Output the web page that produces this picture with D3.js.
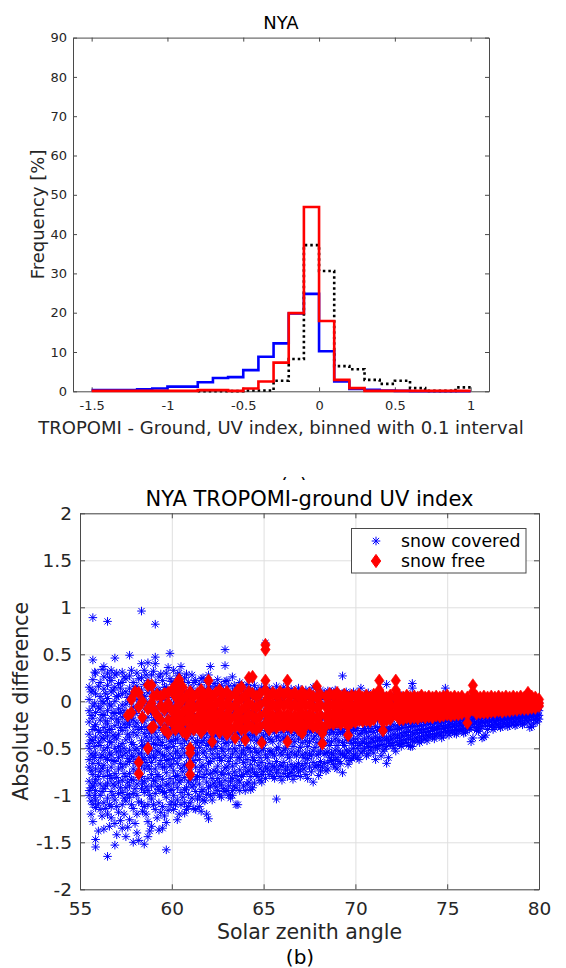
<!DOCTYPE html>
<html>
<head>
<meta charset="utf-8">
<script src="https://cdn.jsdelivr.net/npm/d3@7"></script>
<style>
  body { margin: 0; background: #fff; }
  svg { font-family: "DejaVu Sans", sans-serif; }
</style>
</head>
<body>
<div id="chart"></div>
<script>
// ---- (a) histogram data, bins of 0.1 ----
const binEdges = [-1.5, -1.4, -1.3, -1.2, -1.1, -1.0, -0.9, -0.8, -0.7, -0.6, -0.5, -0.4, -0.3, -0.2, -0.1,
  0, 0.1, 0.2, 0.3, 0.4, 0.5, 0.6, 0.7, 0.8, 0.9, 1.0]
const snowCoveredFreq = [0.3, 0.3, 0.3, 0.5, 0.7, 1.2, 1.2, 2.3, 3.4, 3.6, 5.4, 8.8, 12.2, 19.8, 24.8,
  10.2, 2.5, 0.6, 0.4, 0.2, 0.1, 0, 0, 0, 0]
const snowFreeFreq = [0.1, 0.1, 0.1, 0.1, 0.1, 0.1, 0.1, 0.3, 0.3, 0.1, 0.7, 2.5, 7.3, 19.9, 46.9,
  17.9, 2.9, 0.8, 0.1, 0.1, 0.1, 0.1, 0.1, 0.1, 0.1]
const allFreq = [null, null, null, null, null, null, null, 0.05, 0.05, 0.05, 0.2, 0.2, 2.7, 8.2, 37.2,
  30.6, 6.4, 5.6, 2.9, 1.9, 2.7, 0.8, 0.1, 0.1, 1.0]
const histXTicks = [-1.5, -1, -0.5, 0, 0.5, 1]
const histYTicks = [0, 10, 20, 30, 40, 50, 60, 70, 80, 90]

// ---- (b) scatter data: [solar zenith angle, [absolute differences]] ----
const snowCovered = [
  [55.5, [0.02, -0.1, -0.22, -0.35, -0.5, -0.62, -0.7, -0.85, -1.0, 0.15, -0.45, -0.95]],
  [55.7, [0.23, 0.12, -0.05, -0.18, -0.3, -0.42, -0.58, -0.66, -0.78, -0.9, -1.1, -1.28, 0.44, 0.89]],
  [55.85, [0.3, 0.08, -0.12, -0.25, -0.38, -0.55, -0.72, -0.83, -0.95, -1.05, -1.13, -1.47, -1.55]],
  [56.1, [0.2, 0.05, -0.08, -0.2, -0.33, -0.47, -0.6, -0.75, -0.88, -1.0, -1.15]],
  [56.3, [0.26, 0.13, -0.02, -0.15, -0.28, -0.4, -0.52, -0.68, -0.8, -0.93, -1.08, -1.36, 0.37]],
  [56.5, [0.3, 0.17, 0.03, -0.1, -0.24, -0.37, -0.49, -0.62, -0.74, -0.87, -1.03, -1.2, -1.65, 0.85]],
  [56.7, [0.22, 0.1, -0.05, -0.18, -0.3, -0.44, -0.57, -0.7, -0.82, -0.96, -1.12, -1.24, 0.33]],
  [56.9, [0.28, 0.15, 0.0, -0.13, -0.26, -0.38, -0.5, -0.64, -0.77, -0.9, -1.05, -1.3, -1.53, 0.46]],
  [57.1, [0.19, 0.06, -0.08, -0.22, -0.35, -0.48, -0.6, -0.72, -0.86, -0.98, -1.18]],
  [57.3, [0.31, 0.2, 0.08, -0.04, -0.17, -0.31, -0.45, -0.58, -0.7, -0.84, -0.97, -1.1, -1.35]],
  [57.5, [0.24, 0.1, -0.03, -0.16, -0.28, -0.41, -0.55, -0.67, -0.8, -0.92, -1.06, -1.44]],
  [57.7, [0.27, 0.14, 0.0, -0.12, -0.25, -0.38, -0.52, -0.64, -0.77, -0.9, -1.02, -1.26, 0.49]],
  [57.9, [0.2, 0.07, -0.06, -0.2, -0.33, -0.46, -0.59, -0.72, -0.84, -0.98, -1.14, -1.5]],
  [58.1, [0.3, 0.16, 0.02, -0.1, -0.23, -0.36, -0.5, -0.62, -0.75, -0.88, -1.0, -1.2, -1.4]],
  [58.35, [0.25, 0.12, -0.02, -0.15, -0.28, -0.42, -0.55, -0.68, -0.8, -0.93, -1.08, 0.96, 0.4]],
  [58.5, [0.33, 0.18, 0.05, -0.08, -0.21, -0.34, -0.47, -0.6, -0.72, -0.85, -0.97, -1.12, -1.52]],
  [58.7, [0.22, 0.09, -0.04, -0.17, -0.3, -0.43, -0.56, -0.69, -0.82, -0.95, -1.1, -1.28, -1.44, 0.41]],
  [58.9, [0.28, 0.14, 0.0, -0.13, -0.26, -0.39, -0.52, -0.65, -0.78, -0.9, -1.04, -1.33]],
  [59.1, [0.2, 0.07, -0.07, -0.2, -0.33, -0.46, -0.6, -0.72, -0.85, -0.98, -1.15, 0.82, 0.47, 0.4]],
  [59.3, [0.26, 0.12, -0.02, -0.15, -0.28, -0.41, -0.54, -0.67, -0.8, -0.94, -1.08, -1.37]],
  [59.5, [0.22, 0.08, -0.05, -0.18, -0.31, -0.44, -0.57, -0.7, -0.83, -0.96, -1.12, -1.35]],
  [59.7, [0.3, 0.15, 0.01, -0.12, -0.25, -0.38, -0.5, -0.63, -0.76, -0.89, -1.02, -1.29, -1.58]],
  [59.9, [0.51, 0.24, 0.1, -0.04, -0.17, -0.3, -0.43, -0.56, -0.69, -0.82, -0.95, -1.1]],
  [60.1, [0.33, 0.18, 0.04, -0.09, -0.22, -0.35, -0.48, -0.61, -0.74, -0.87, -1.0, -1.15]],
  [60.3, [0.27, 0.13, -0.01, -0.14, -0.27, -0.4, -0.53, -0.66, -0.79, -0.92, -1.05, -1.26]],
  [60.5, [0.37, 0.21, 0.07, -0.06, -0.19, -0.32, -0.45, -0.58, -0.71, -0.84, -0.97, -1.1]],
  [60.7, [0.25, 0.1, -0.03, -0.16, -0.29, -0.42, -0.55, -0.68, -0.81, -0.94, -1.08, -1.19]],
  [60.9, [0.2, 0.06, -0.08, -0.21, -0.34, -0.47, -0.6, -0.73, -0.86, -0.99, -1.12]],
  [61.1, [0.28, 0.14, 0.0, -0.13, -0.26, -0.39, -0.52, -0.65, -0.78, -0.91, -1.03]],
  [61.3, [0.22, 0.08, -0.05, -0.18, -0.31, -0.44, -0.57, -0.7, -0.83, -0.96, -1.15]],
  [61.5, [0.18, 0.04, -0.1, -0.23, -0.36, -0.49, -0.62, -0.75, -0.88, -1.01, -1.12]],
  [61.7, [0.25, 0.11, -0.03, -0.16, -0.29, -0.42, -0.55, -0.68, -0.81, -0.94, -1.05]],
  [61.9, [0.2, 0.06, -0.08, -0.21, -0.34, -0.47, -0.6, -0.73, -0.86, -0.99, -1.2]],
  [62.1, [0.37, 0.15, 0.01, -0.12, -0.25, -0.38, -0.51, -0.64, -0.77, -0.9, -1.0]],
  [62.3, [0.19, 0.05, -0.09, -0.22, -0.35, -0.48, -0.61, -0.74, -0.87, -0.98]],
  [62.5, [0.23, 0.09, -0.04, -0.17, -0.3, -0.43, -0.56, -0.69, -0.82, -0.95]],
  [62.7, [0.17, 0.03, -0.11, -0.24, -0.37, -0.5, -0.63, -0.76, -0.89, -1.02]],
  [62.9, [0.55, 0.38, 0.21, 0.07, -0.06, -0.19, -0.32, -0.45, -0.58, -0.71, -0.84, -0.96]],
  [63.1, [0.16, 0.02, -0.12, -0.25, -0.38, -0.51, -0.64, -0.77, -0.9, -1.0]],
  [63.3, [0.26, 0.1, -0.04, -0.17, -0.3, -0.43, -0.56, -0.69, -0.82, -0.95, -1.0]],
  [63.5, [0.14, 0.0, -0.14, -0.27, -0.4, -0.53, -0.66, -0.79, -0.92, -1.1]],
  [63.7, [0.2, 0.06, -0.08, -0.21, -0.34, -0.47, -0.6, -0.73, -0.86, -0.95]],
  [63.9, [0.15, 0.01, -0.13, -0.26, -0.39, -0.52, -0.65, -0.78, -0.9]],
  [64.1, [0.18, 0.04, -0.1, -0.23, -0.36, -0.49, -0.62, -0.75, -0.88]],
  [64.3, [0.13, -0.01, -0.15, -0.28, -0.41, -0.54, -0.67, -0.8, -0.94]],
  [64.5, [0.17, 0.03, -0.11, -0.24, -0.37, -0.5, -0.63, -0.76, -0.87]],
  [64.7, [0.12, -0.02, -0.16, -0.29, -0.42, -0.55, -0.68, -0.8]],
  [64.9, [0.15, 0.01, -0.13, -0.26, -0.39, -0.52, -0.65, -0.78, -0.86]],
  [65.1, [0.62, 0.1, -0.04, -0.18, -0.31, -0.44, -0.57, -0.7, -0.82]],
  [65.3, [0.14, 0.0, -0.14, -0.27, -0.4, -0.53, -0.66, -0.78]],
  [65.5, [0.11, -0.03, -0.17, -0.3, -0.43, -0.56, -0.69, -0.8]],
  [65.7, [0.16, 0.02, -0.12, -0.25, -0.38, -0.51, -0.64, -0.76, -1.04]],
  [65.9, [0.12, -0.02, -0.16, -0.29, -0.42, -0.55, -0.68, -0.8]],
  [66.1, [0.15, 0.01, -0.13, -0.26, -0.39, -0.52, -0.65, -0.77]],
  [66.3, [0.1, -0.04, -0.18, -0.31, -0.44, -0.57, -0.7, -0.8]],
  [66.5, [0.13, -0.01, -0.15, -0.28, -0.41, -0.54, -0.67, -0.76]],
  [66.7, [0.11, -0.03, -0.17, -0.3, -0.43, -0.56, -0.69, -0.79]],
  [66.9, [0.14, 0.0, -0.14, -0.27, -0.4, -0.53, -0.66, -0.75]],
  [67.1, [0.1, -0.04, -0.18, -0.31, -0.44, -0.57, -0.68]],
  [67.3, [0.12, -0.02, -0.16, -0.29, -0.42, -0.55, -0.66, -0.78]],
  [67.5, [0.11, -0.03, -0.17, -0.3, -0.43, -0.56, -0.7]],
  [67.7, [0.15, 0.0, -0.14, -0.27, -0.4, -0.53, -0.65, -0.86]],
  [67.9, [0.1, -0.04, -0.18, -0.31, -0.44, -0.57, -0.68]],
  [68.1, [0.12, -0.02, -0.15, -0.28, -0.41, -0.53, -0.64, -0.74]],
  [68.3, [0.09, -0.05, -0.18, -0.31, -0.44, -0.56, -0.66]],
  [68.5, [0.11, -0.03, -0.16, -0.29, -0.42, -0.54, -0.65, -0.72]],
  [68.7, [0.1, -0.04, -0.17, -0.3, -0.43, -0.55, -0.63]],
  [68.9, [0.12, -0.02, -0.15, -0.28, -0.4, -0.52, -0.62, -0.7]],
  [69.1, [0.09, -0.05, -0.18, -0.3, -0.42, -0.53, -0.64]],
  [69.3, [0.27, 0.08, -0.06, -0.19, -0.32, -0.44, -0.56, -0.76]],
  [69.5, [0.1, -0.04, -0.17, -0.29, -0.41, -0.52, -0.6]],
  [69.7, [0.08, -0.06, -0.18, -0.3, -0.42, -0.53, -0.63]],
  [69.9, [0.1, -0.04, -0.16, -0.28, -0.4, -0.5, -0.58]],
  [70.1, [0.08, -0.05, -0.17, -0.29, -0.4, -0.5, -0.6]],
  [70.3, [0.14, 0.02, -0.1, -0.22, -0.34, -0.45, -0.55]],
  [70.5, [0.07, -0.05, -0.17, -0.29, -0.4, -0.5]],
  [70.7, [0.09, -0.03, -0.15, -0.27, -0.38, -0.48, -0.56]],
  [70.9, [0.06, -0.06, -0.18, -0.29, -0.4, -0.49]],
  [71.1, [0.08, -0.04, -0.16, -0.27, -0.38, -0.48, -0.62]],
  [71.3, [0.06, -0.06, -0.17, -0.28, -0.39, -0.47]],
  [71.5, [0.07, -0.05, -0.16, -0.27, -0.37, -0.46, -0.53]],
  [71.7, [0.18, 0.05, -0.07, -0.18, -0.29, -0.39, -0.48, -0.66]],
  [71.9, [0.06, -0.05, -0.16, -0.27, -0.37, -0.45]],
  [72.1, [0.07, -0.04, -0.15, -0.25, -0.35, -0.44, -0.5]],
  [72.3, [0.05, -0.06, -0.16, -0.26, -0.36, -0.44]],
  [72.5, [0.06, -0.05, -0.15, -0.25, -0.34, -0.42, -0.48]],
  [72.7, [0.05, -0.05, -0.15, -0.24, -0.33, -0.41]],
  [72.9, [0.06, -0.04, -0.14, -0.23, -0.32, -0.4, -0.47]],
  [73.1, [0.19, 0.14, 0.04, -0.06, -0.15, -0.24, -0.33, -0.41, -0.48]],
  [73.3, [0.05, -0.05, -0.14, -0.23, -0.31, -0.39]],
  [73.5, [0.06, -0.04, -0.13, -0.22, -0.3, -0.38, -0.44]],
  [73.7, [0.04, -0.05, -0.14, -0.22, -0.3, -0.37]],
  [73.9, [0.05, -0.04, -0.13, -0.21, -0.29, -0.36, -0.42]],
  [74.1, [0.04, -0.05, -0.13, -0.21, -0.28, -0.35]],
  [74.3, [0.05, -0.04, -0.12, -0.2, -0.28, -0.35, -0.4]],
  [74.5, [0.04, -0.05, -0.13, -0.2, -0.27, -0.34]],
  [74.7, [0.05, -0.03, -0.11, -0.19, -0.26, -0.33, -0.39]],
  [74.9, [0.14, 0.04, -0.04, -0.12, -0.19, -0.26, -0.32]],
  [75.1, [0.04, -0.04, -0.11, -0.18, -0.25, -0.31, -0.36]],
  [75.3, [0.03, -0.05, -0.12, -0.19, -0.25, -0.31]],
  [75.5, [0.04, -0.03, -0.1, -0.17, -0.24, -0.3, -0.35]],
  [75.7, [0.03, -0.04, -0.11, -0.18, -0.24, -0.3]],
  [75.9, [0.04, -0.03, -0.1, -0.17, -0.23, -0.29, -0.34]],
  [76.1, [0.03, -0.04, -0.11, -0.17, -0.23, -0.29]],
  [76.3, [0.04, -0.03, -0.1, -0.16, -0.22, -0.28, -0.43]],
  [76.5, [0.03, -0.04, -0.1, -0.16, -0.22, -0.28]],
  [76.7, [0.04, -0.02, -0.09, -0.15, -0.21, -0.27, -0.32]],
  [76.9, [0.03, -0.03, -0.1, -0.16, -0.22, -0.27, -0.39]],
  [77.1, [0.04, -0.02, -0.09, -0.15, -0.21, -0.26, -0.36]],
  [77.3, [0.03, -0.03, -0.09, -0.15, -0.2, -0.26]],
  [77.5, [0.04, -0.02, -0.08, -0.14, -0.2, -0.25, -0.3]],
  [77.7, [0.03, -0.03, -0.09, -0.14, -0.2, -0.25]],
  [77.9, [0.04, -0.02, -0.08, -0.13, -0.19, -0.24, -0.28]],
  [78.1, [0.03, -0.03, -0.08, -0.14, -0.19, -0.24]],
  [78.3, [0.04, -0.02, -0.07, -0.13, -0.18, -0.23, -0.27]],
  [78.5, [0.03, -0.02, -0.08, -0.13, -0.18, -0.22]],
  [78.7, [0.04, -0.01, -0.07, -0.12, -0.17, -0.22, -0.26]],
  [78.9, [0.03, -0.02, -0.07, -0.12, -0.17, -0.21]],
  [79.1, [0.04, -0.01, -0.06, -0.11, -0.16, -0.21, -0.25]],
  [79.3, [0.03, -0.02, -0.07, -0.11, -0.16, -0.2]],
  [79.5, [0.03, -0.01, -0.06, -0.1, -0.15, -0.2, -0.28]],
  [79.7, [0.02, -0.02, -0.06, -0.1, -0.15, -0.19, -0.24]],
  [79.9, [0.02, -0.02, -0.06, -0.1, -0.14, -0.18, -0.22]]
]

// more snow-covered points read between the columns above
const snowCoveredFill = [
  [55.6, [0.1, -0.15, -0.41, -0.56, -0.74, -0.92, -1.06, -1.2]],
  [55.8, [0.31, -0.02, -0.27, -0.48, -0.6, -0.87, -1.0]],
  [56.0, [0.16, -0.06, -0.31, -0.44, -0.66, -0.8, -1.09, -1.38]],
  [56.2, [0.34, 0.0, -0.14, -0.39, -0.57, -0.71, -0.96, -1.22]],
  [56.4, [0.08, -0.21, -0.33, -0.6, -0.9, -1.14]],
  [56.6, [0.25, -0.03, -0.3, -0.43, -0.55, -0.79, -1.1, -1.33]],
  [56.8, [0.12, -0.12, -0.36, -0.63, -0.88, -1.0]],
  [57.0, [0.3, 0.05, -0.19, -0.4, -0.54, -0.81, -1.12, -1.42]],
  [57.2, [0.14, -0.12, -0.28, -0.53, -0.66, -0.92, -1.27]],
  [57.4, [0.26, -0.1, -0.24, -0.5, -0.77, -1.03, -1.2]],
  [57.6, [0.04, -0.22, -0.35, -0.61, -0.86, -0.99, -1.34]],
  [57.8, [0.33, 0.08, -0.18, -0.44, -0.58, -0.83, -1.1]],
  [58.0, [0.13, -0.13, -0.27, -0.52, -0.66, -0.93, -1.3]],
  [58.2, [0.24, -0.03, -0.3, -0.56, -0.81, -1.07, -1.48]],
  [58.4, [0.06, -0.2, -0.48, -0.62, -0.87, -1.17]],
  [58.6, [0.28, 0.0, -0.27, -0.38, -0.65, -0.91, -1.2]],
  [58.8, [0.15, -0.07, -0.34, -0.6, -0.72, -1.0, -1.38]],
  [59.0, [0.32, 0.08, -0.2, -0.45, -0.58, -0.84, -1.1]],
  [59.2, [0.12, -0.09, -0.38, -0.53, -0.78, -0.91, -1.24]],
  [59.4, [0.29, 0.02, -0.24, -0.47, -0.63, -0.9, -1.18]],
  [59.6, [0.15, -0.1, -0.36, -0.58, -0.7, -0.97, -1.22]],
  [59.8, [0.36, 0.06, -0.22, -0.49, -0.62, -0.88, -1.16]],
  [60.0, [0.21, -0.02, -0.28, -0.42, -0.67, -0.94, -1.07]],
  [60.2, [0.1, -0.15, -0.41, -0.55, -0.8, -1.1]],
  [60.4, [0.3, 0.04, -0.2, -0.34, -0.6, -0.86, -1.2]],
  [60.6, [0.14, -0.1, -0.37, -0.5, -0.75, -1.02]],
  [60.8, [0.29, 0.0, -0.27, -0.4, -0.67, -0.92, -1.15]],
  [61.0, [0.12, -0.14, -0.33, -0.58, -0.84, -1.08]],
  [61.2, [0.2, -0.03, -0.24, -0.5, -0.63, -0.89, -1.14]],
  [61.4, [0.09, -0.17, -0.42, -0.55, -0.8, -1.04]],
  [61.6, [0.24, -0.05, -0.3, -0.44, -0.7, -0.96, -1.17]],
  [61.8, [0.13, -0.12, -0.39, -0.53, -0.78, -1.06]],
  [62.0, [0.28, 0.02, -0.26, -0.45, -0.66, -0.92, -1.25]],
  [62.2, [0.1, -0.16, -0.3, -0.56, -0.82, -1.05]],
  [62.4, [0.16, -0.1, -0.37, -0.5, -0.75, -0.91]],
  [62.6, [0.07, -0.2, -0.33, -0.6, -0.86, -1.0]],
  [62.8, [0.12, -0.13, -0.4, -0.53, -0.78, -0.93]],
  [63.0, [0.22, 0.0, -0.27, -0.44, -0.7, -0.95]],
  [63.2, [0.08, -0.18, -0.33, -0.6, -0.85, -1.03]],
  [63.4, [0.17, -0.1, -0.36, -0.5, -0.75, -0.9]],
  [63.6, [0.06, -0.2, -0.34, -0.6, -0.84, -1.1]],
  [63.8, [0.12, -0.15, -0.41, -0.55, -0.8]],
  [64.0, [0.08, -0.17, -0.3, -0.57, -0.7, -0.95]],
  [64.2, [0.14, -0.1, -0.36, -0.5, -0.74, -0.86]],
  [64.4, [0.05, -0.21, -0.35, -0.6, -0.72, -0.92]],
  [64.6, [0.1, -0.15, -0.42, -0.54, -0.78]],
  [64.8, [0.07, -0.19, -0.33, -0.6, -0.72, -0.84]],
  [65.0, [0.12, -0.12, -0.37, -0.5, -0.75]],
  [65.2, [0.04, -0.22, -0.35, -0.6, -0.72]],
  [65.4, [0.09, -0.16, -0.41, -0.53, -0.74]],
  [65.6, [0.06, -0.2, -0.33, -0.58, -0.7, -0.82]],
  [65.8, [0.1, -0.14, -0.37, -0.49, -0.73]],
  [66.0, [0.05, -0.2, -0.33, -0.57, -0.69, -0.84]],
  [66.2, [0.08, -0.16, -0.38, -0.5, -0.73]],
  [66.4, [0.04, -0.21, -0.33, -0.6, -0.77]],
  [66.6, [0.07, -0.15, -0.36, -0.48, -0.72, -0.83]],
  [66.8, [0.03, -0.2, -0.33, -0.58, -0.7]],
  [67.0, [0.06, -0.16, -0.37, -0.49, -0.73, -0.8]],
  [67.2, [0.03, -0.21, -0.35, -0.6, -0.72]],
  [67.4, [0.07, -0.14, -0.36, -0.48, -0.61, -0.82]],
  [67.6, [0.02, -0.2, -0.33, -0.58, -0.75]],
  [67.8, [0.05, -0.16, -0.37, -0.49, -0.7]],
  [68.0, [0.02, -0.2, -0.34, -0.56, -0.68, -0.79]],
  [68.2, [0.06, -0.15, -0.36, -0.48, -0.7]],
  [68.4, [0.02, -0.2, -0.33, -0.55, -0.74]],
  [68.6, [0.05, -0.15, -0.35, -0.47, -0.6]],
  [68.8, [0.02, -0.2, -0.33, -0.57, -0.67]],
  [69.0, [0.05, -0.15, -0.35, -0.47, -0.6, -0.72]],
  [69.2, [0.02, -0.19, -0.33, -0.56, -0.66]],
  [69.4, [0.05, -0.14, -0.35, -0.47, -0.58]],
  [69.6, [0.01, -0.19, -0.32, -0.55, -0.67]],
  [69.8, [0.04, -0.14, -0.34, -0.45, -0.61]],
  [70.0, [0.02, -0.18, -0.31, -0.44, -0.56]],
  [70.2, [0.04, -0.13, -0.35, -0.47, -0.62]],
  [70.4, [0.01, -0.19, -0.31, -0.43, -0.53]],
  [70.6, [0.03, -0.12, -0.33, -0.45, -0.58]],
  [70.8, [0.01, -0.2, -0.32, -0.44, -0.52]],
  [71.0, [0.03, -0.12, -0.33, -0.43, -0.55]],
  [71.2, [0.0, -0.2, -0.31, -0.42, -0.5]],
  [71.4, [0.03, -0.11, -0.32, -0.42, -0.58]],
  [71.6, [0.0, -0.19, -0.3, -0.41, -0.51]],
  [71.8, [0.02, -0.1, -0.31, -0.42, -0.6]],
  [72.0, [0.0, -0.19, -0.3, -0.4, -0.47]],
  [72.2, [0.02, -0.1, -0.3, -0.39, -0.53]],
  [72.4, [-0.01, -0.19, -0.29, -0.39, -0.46]],
  [72.6, [0.02, -0.1, -0.28, -0.37, -0.45]],
  [72.8, [-0.01, -0.18, -0.28, -0.36, -0.44]],
  [73.0, [0.01, -0.1, -0.27, -0.37, -0.48]],
  [73.2, [-0.01, -0.18, -0.27, -0.35, -0.43]],
  [73.4, [0.01, -0.09, -0.26, -0.34, -0.42]],
  [73.6, [-0.01, -0.17, -0.26, -0.33, -0.41]],
  [73.8, [0.01, -0.09, -0.25, -0.33, -0.4]],
  [74.0, [-0.01, -0.17, -0.24, -0.32, -0.38]],
  [74.2, [0.0, -0.08, -0.24, -0.31, -0.38]],
  [74.4, [-0.01, -0.16, -0.23, -0.3, -0.37]],
  [74.6, [0.0, -0.08, -0.23, -0.29, -0.36]],
  [74.8, [-0.01, -0.15, -0.22, -0.29, -0.37]],
  [75.0, [0.0, -0.08, -0.21, -0.28, -0.34]],
  [75.2, [-0.01, -0.15, -0.21, -0.27, -0.33]],
  [75.4, [0.0, -0.08, -0.21, -0.27, -0.34]],
  [75.6, [-0.01, -0.14, -0.2, -0.26, -0.32]],
  [75.8, [0.0, -0.07, -0.2, -0.26, -0.31]],
  [76.0, [-0.01, -0.13, -0.19, -0.25, -0.33]],
  [76.2, [0.0, -0.07, -0.19, -0.25, -0.3]],
  [76.4, [-0.01, -0.13, -0.19, -0.24, -0.39]],
  [76.6, [0.0, -0.07, -0.18, -0.24, -0.31]],
  [76.8, [-0.01, -0.12, -0.18, -0.23, -0.29]],
  [77.0, [0.0, -0.06, -0.17, -0.23, -0.38]],
  [77.2, [-0.01, -0.12, -0.17, -0.22, -0.3]],
  [77.4, [0.0, -0.06, -0.16, -0.22, -0.27]],
  [77.6, [-0.01, -0.11, -0.16, -0.21, -0.28]],
  [77.8, [0.0, -0.05, -0.16, -0.21, -0.26]],
  [78.0, [-0.01, -0.11, -0.15, -0.2, -0.27]],
  [78.2, [0.0, -0.05, -0.15, -0.2, -0.25]],
  [78.4, [-0.01, -0.1, -0.15, -0.19, -0.26]],
  [78.6, [0.0, -0.05, -0.14, -0.19, -0.24]],
  [78.8, [-0.01, -0.1, -0.14, -0.18, -0.25]],
  [79.0, [0.0, -0.04, -0.13, -0.18, -0.23]],
  [79.2, [-0.01, -0.09, -0.13, -0.17, -0.24]],
  [79.4, [0.0, -0.04, -0.12, -0.17, -0.22]],
  [79.6, [-0.01, -0.08, -0.12, -0.16, -0.27]],
  [79.8, [0.0, -0.04, -0.11, -0.16, -0.2]],
  [80.0, [-0.01, -0.06, -0.1, -0.15, -0.19]]
]

const snowFree = [
  [57.6, [-0.15]], [57.8, [0.02, -0.12]], [58.0, [0.1]],
  [58.2, [0.09, -0.06, -0.65, -0.77]], [58.4, [-0.17, 0.0]],
  [58.7, [0.17, -0.5, -0.08]], [58.9, [0.17, -0.28, -0.02]], [59.0, [-0.09, -0.27, 0.05]],
  [59.2, [0.07, -0.15]], [59.4, [0.05, -0.2, -0.05]], [59.6, [-0.09, 0.08, -0.3]],
  [59.8, [0.09, -0.34, -0.2, -0.02]], [60.0, [0.12, -0.1, -0.22]],
  [60.2, [0.17, 0.05, -0.08, -0.18, -0.3]], [60.4, [0.23, 0.1, -0.03, -0.15, -0.25]],
  [60.6, [0.15, 0.02, -0.12, -0.22, -0.32]], [60.8, [0.06, -0.08, -0.2, -0.35]],
  [61.0, [0.1, -0.02, -0.15, -0.28, -0.5, -0.55, -0.68, -0.78]],
  [61.2, [0.05, -0.07, -0.2, -0.3]], [61.4, [0.08, -0.05, -0.17, -0.27]],
  [61.6, [0.12, 0.0, -0.12, -0.24, -0.33]], [61.8, [0.06, -0.06, -0.18, -0.28]],
  [62.0, [0.22, 0.1, -0.02, -0.14, -0.25]], [62.2, [0.05, -0.08, -0.2, -0.32, -0.43]],
  [62.4, [0.09, -0.03, -0.15, -0.26]], [62.6, [0.12, 0.0, -0.12, -0.23, -0.33]],
  [62.8, [0.07, -0.05, -0.17, -0.28]], [63.0, [0.1, -0.02, -0.14, -0.25, -0.35]],
  [63.2, [0.05, -0.07, -0.19, -0.3]], [63.45, [0.08, -0.04, -0.16, -0.27, -0.39]],
  [63.6, [0.12, 0.0, -0.12, -0.23]], [63.8, [0.15, 0.03, -0.09, -0.2, -0.3]],
  [64.0, [0.06, -0.06, -0.18, -0.29, -0.41]], [64.2, [0.25, 0.1, -0.02, -0.14, -0.25]],
  [64.4, [0.26, 0.08, -0.05, -0.16, -0.28]], [64.6, [0.05, -0.07, -0.19, -0.3]],
  [64.8, [0.08, -0.04, -0.16, -0.27]], [64.9, [-0.44]],
  [65.1, [0.6, 0.55, 0.22, 0.12, 0.0, -0.12, -0.24]],
  [65.3, [0.05, -0.07, -0.19, -0.3]], [65.5, [0.09, -0.03, -0.15, -0.26]],
  [65.7, [0.06, -0.06, -0.18, -0.28]], [65.9, [0.1, -0.02, -0.14, -0.25]],
  [66.1, [0.07, -0.05, -0.17, -0.27]], [66.3, [0.22, 0.1, -0.02, -0.14, -0.25, -0.43]],
  [66.5, [0.06, -0.06, -0.18, -0.28]], [66.7, [0.09, -0.03, -0.15, -0.25]],
  [66.9, [0.05, -0.07, -0.19, -0.3]], [67.1, [0.1, -0.02, -0.13, -0.24, -0.34]],
  [67.3, [0.06, -0.05, -0.16, -0.26]], [67.5, [0.08, -0.03, -0.14, -0.24]],
  [67.7, [0.05, -0.06, -0.17, -0.27]], [67.9, [0.16, 0.04, -0.07, -0.18, -0.27]],
  [68.1, [0.07, -0.04, -0.15, -0.25]], [68.2, [-0.34, -0.45]],
  [68.4, [0.05, -0.06, -0.16, -0.26]], [68.6, [0.08, -0.03, -0.13, -0.23]],
  [68.8, [0.06, -0.05, -0.15, -0.24]], [69.0, [0.09, -0.02, -0.12, -0.22]],
  [69.2, [0.05, -0.05, -0.15, -0.24]], [69.4, [0.07, -0.03, -0.13, -0.22]],
  [69.6, [0.04, -0.06, -0.16, -0.26, -0.36]], [69.8, [0.06, -0.04, -0.13, -0.22]],
  [70.0, [0.05, -0.05, -0.14, -0.22]], [70.2, [0.07, -0.02, -0.11, -0.2]],
  [70.4, [0.04, -0.05, -0.13, -0.21]], [70.6, [0.06, -0.03, -0.12, -0.2]],
  [70.8, [0.04, -0.05, -0.13, -0.21]], [71.0, [0.07, -0.02, -0.11, -0.19]],
  [71.3, [0.22, 0.12, 0.03, -0.06, -0.15]], [71.5, [0.05, -0.04, -0.13, -0.22, -0.31]],
  [71.7, [0.04, -0.05, -0.13, -0.2]], [71.9, [0.06, -0.03, -0.11, -0.19]],
  [72.2, [0.22, 0.12, 0.03, -0.06, -0.14]], [72.4, [0.05, -0.04, -0.12, -0.19]],
  [72.6, [0.04, -0.04, -0.12, -0.19]], [72.8, [0.06, -0.02, -0.1, -0.17]],
  [73.0, [0.04, -0.04, -0.11, -0.18]], [73.2, [0.05, -0.03, -0.1, -0.17]],
  [73.4, [0.04, -0.04, -0.11, -0.18]], [73.6, [0.06, -0.02, -0.09, -0.16]],
  [73.8, [0.04, -0.03, -0.1, -0.17]], [74.0, [0.05, -0.02, -0.09, -0.16]],
  [74.2, [0.04, -0.03, -0.1, -0.17]], [74.4, [0.05, -0.02, -0.09, -0.15]],
  [74.6, [0.04, -0.03, -0.1, -0.16]], [74.8, [0.05, -0.02, -0.08, -0.15]],
  [75.0, [0.06, -0.01, -0.08, -0.14]], [75.2, [0.04, -0.03, -0.09, -0.15]],
  [75.4, [0.05, -0.02, -0.08, -0.14]], [75.6, [0.04, -0.02, -0.08, -0.14]],
  [75.8, [0.05, -0.01, -0.07, -0.13]], [76.1, [0.04, -0.02, -0.08, -0.14, -0.23]],
  [76.4, [0.17, 0.1, 0.03, -0.03, -0.09]], [76.6, [0.05, -0.01, -0.07, -0.13]],
  [76.8, [0.04, -0.02, -0.07, -0.12]], [77.0, [0.05, -0.01, -0.06, -0.12]],
  [77.2, [0.04, -0.02, -0.07, -0.12]], [77.4, [0.05, -0.01, -0.06, -0.11]],
  [77.6, [0.04, -0.01, -0.06, -0.11]], [77.8, [0.05, 0.0, -0.05, -0.1]],
  [78.0, [0.04, -0.01, -0.06, -0.11]], [78.2, [0.05, 0.0, -0.05, -0.1]],
  [78.4, [0.04, -0.01, -0.05, -0.1]], [78.6, [0.05, 0.0, -0.05, -0.09]],
  [78.8, [0.04, -0.01, -0.05, -0.09]], [79.0, [0.05, 0.0, -0.04, -0.08]],
  [79.2, [0.04, 0.0, -0.04, -0.08]], [79.4, [0.09, 0.04, 0.0, -0.04, -0.08]],
  [79.6, [0.05, 0.01, -0.03, -0.07]], [79.8, [0.04, 0.0, -0.03, -0.07]],
  [80.0, [0.02, -0.02, -0.05]]
]
const szaTicks = [55, 60, 65, 70, 75, 80]
const diffTicks = [-2, -1.5, -1, -0.5, 0, 0.5, 1, 1.5, 2]

function draw() {
	const width = 566
	const height = 968
	const axisColor = '#4a4a4a'
	const textColor = '#262626'

	const svg = d3.select('#chart')
		.append('svg')
		.attr('width', width)
		.attr('height', height)

	svg.append('rect').attr('width', width).attr('height', height).attr('fill', '#fff')

	// ================= (a) histogram =================
	const hist = { left: 73, right: 489, top: 37.6, bottom: 391.3 }

	const xHist = d3.scaleLinear()
		.domain([-1.623, 1.121])
		.range([hist.left, hist.right])
	const yHist = d3.scaleLinear()
		.domain([0, 90])
		.range([hist.bottom, hist.top])

	const fmt = d => String(d)

	const hAxes = svg.append('g')
	hAxes.append('g')
		.attr('transform', `translate(0, ${hist.bottom})`)
		.call(d3.axisBottom(xHist).tickValues(histXTicks).tickFormat(fmt).tickSizeInner(-4).tickSizeOuter(0).tickPadding(9))
	hAxes.append('g')
		.attr('transform', `translate(0, ${hist.top})`)
		.call(d3.axisTop(xHist).tickValues(histXTicks).tickFormat('').tickSizeInner(-4).tickSizeOuter(0))
	hAxes.append('g')
		.attr('transform', `translate(${hist.left}, 0)`)
		.call(d3.axisLeft(yHist).tickValues(histYTicks).tickFormat(fmt).tickSizeInner(-4).tickSizeOuter(0).tickPadding(6))
	hAxes.append('g')
		.attr('transform', `translate(${hist.right}, 0)`)
		.call(d3.axisRight(yHist).tickValues(histYTicks).tickFormat('').tickSizeInner(-4).tickSizeOuter(0))
	hAxes.selectAll('path.domain').attr('stroke', axisColor)
	hAxes.selectAll('.tick line').attr('stroke', axisColor)
	hAxes.selectAll('.tick text')
		.attr('fill', textColor)
		.style('font-size', '13px')
		.style('font-family', '"DejaVu Sans", sans-serif')

	// stairs
	const stairPoints = vals => {
		const pts = vals.map((v, i) => [binEdges[i], v])
		pts.push([binEdges[binEdges.length - 1], vals[vals.length - 1]])
		return pts
	}
	const stairLine = d3.line()
		.defined(d => d[1] !== null)
		.x(d => xHist(d[0]))
		.y(d => yHist(d[1]))
		.curve(d3.curveStepAfter)

	const series = [
		{ vals: snowCoveredFreq, color: '#0000ff', dash: null },
		{ vals: allFreq, color: '#000000', dash: '2.5,3' },
		{ vals: snowFreeFreq, color: '#ff0000', dash: null }
	]
	svg.append('g')
		.selectAll('path')
		.data(series)
		.join('path')
		.attr('d', d => stairLine(stairPoints(d.vals)))
		.attr('fill', 'none')
		.attr('stroke', d => d.color)
		.attr('stroke-width', 2.6)
		.attr('stroke-dasharray', d => d.dash)

	svg.append('text')
		.attr('x', (hist.left + hist.right) / 2)
		.attr('y', 29)
		.attr('text-anchor', 'middle')
		.attr('fill', '#000')
		.style('font-size', '18px')
		.text('NYA')

	svg.append('text')
		.attr('transform', `translate(44, ${(hist.top + hist.bottom) / 2}) rotate(-90)`)
		.attr('text-anchor', 'middle')
		.attr('fill', textColor)
		.style('font-size', '18px')
		.text('Frequency [%]')

	svg.append('text')
		.attr('x', (hist.left + hist.right) / 2)
		.attr('y', 434)
		.attr('text-anchor', 'middle')
		.attr('fill', textColor)
		.style('font-size', '18px')
		.text('TROPOMI - Ground, UV index, binned with 0.1 interval')

	// caption (a), partly hidden behind panel (b)
	svg.append('clipPath').attr('id', 'capClip')
		.append('rect').attr('x', 0).attr('y', 0).attr('width', width).attr('height', 480)
	svg.append('text')
		.attr('x', 294)
		.attr('y', 492)
		.attr('text-anchor', 'middle')
		.attr('clip-path', 'url(#capClip)')
		.attr('fill', '#000')
		.style('font-size', '20px')
		.text('(a)')

	// ================= (b) scatter =================
	const sc = { left: 80, right: 539, top: 513.3, bottom: 889.3 }

	const xSza = d3.scaleLinear()
		.domain([55, 80])
		.range([sc.left, sc.right])
	const yDiff = d3.scaleLinear()
		.domain([-2, 2])
		.range([sc.bottom, sc.top])

	// grid
	const grid = svg.append('g')
	grid.append('g')
		.attr('transform', `translate(0, ${sc.bottom})`)
		.call(d3.axisBottom(xSza).tickValues(szaTicks).tickFormat('').tickSizeInner(-(sc.bottom - sc.top)).tickSizeOuter(0))
	grid.append('g')
		.attr('transform', `translate(${sc.left}, 0)`)
		.call(d3.axisLeft(yDiff).tickValues(diffTicks).tickFormat('').tickSizeInner(-(sc.right - sc.left)).tickSizeOuter(0))
	grid.selectAll('path.domain').remove()
	grid.selectAll('.tick line').attr('stroke', '#dfdfdf')

	const sAxes = svg.append('g')
	sAxes.append('g')
		.attr('transform', `translate(0, ${sc.bottom})`)
		.call(d3.axisBottom(xSza).tickValues(szaTicks).tickFormat(fmt).tickSizeInner(-5).tickSizeOuter(0).tickPadding(13))
	sAxes.append('g')
		.attr('transform', `translate(0, ${sc.top})`)
		.call(d3.axisTop(xSza).tickValues(szaTicks).tickFormat('').tickSizeInner(-5).tickSizeOuter(0))
	sAxes.append('g')
		.attr('transform', `translate(${sc.left}, 0)`)
		.call(d3.axisLeft(yDiff).tickValues(diffTicks).tickFormat(fmt).tickSizeInner(-5).tickSizeOuter(0).tickPadding(8))
	sAxes.append('g')
		.attr('transform', `translate(${sc.right}, 0)`)
		.call(d3.axisRight(yDiff).tickValues(diffTicks).tickFormat('').tickSizeInner(-5).tickSizeOuter(0))
	sAxes.selectAll('path.domain').attr('stroke', axisColor)
	sAxes.selectAll('.tick line').attr('stroke', axisColor)
	sAxes.selectAll('.tick text')
		.attr('fill', textColor)
		.style('font-size', '18.5px')
		.style('font-family', '"DejaVu Sans", sans-serif')

	const flatten = cols => cols.flatMap(([x, ys]) => ys.map(y => [x, y]))
	const coveredPts = flatten(snowCovered).concat(flatten(snowCoveredFill))
	const freePts = flatten(snowFree)

	const r = 4.3
	const k = r * 0.72
	const asterisk = `M${-r},0H${r}M0,${-r}V${r}M${-k},${-k}L${k},${k}M${-k},${k}L${k},${-k}`
	const diamond = 'M0,-6.6L4.7,0L0,6.6L-4.7,0Z'

	svg.append('g')
		.selectAll('path')
		.data(coveredPts)
		.join('path')
		.attr('transform', d => `translate(${xSza(d[0])}, ${yDiff(d[1])})`)
		.attr('d', asterisk)
		.attr('fill', 'none')
		.attr('stroke', '#0000ff')
		.attr('stroke-width', 1.0)

	svg.append('g')
		.selectAll('path')
		.data(freePts)
		.join('path')
		.attr('transform', d => `translate(${xSza(d[0])}, ${yDiff(d[1])})`)
		.attr('d', diamond)
		.attr('fill', '#ff0000')
		.attr('stroke', '#ff0000')
		.attr('stroke-width', 0.6)

	// legend
	const legend = svg.append('g')
	legend.append('rect')
		.attr('x', 351.5).attr('y', 528.5)
		.attr('width', 174.5).attr('height', 44.5)
		.attr('fill', '#fff')
		.attr('stroke', axisColor)
		.attr('stroke-width', 1)
	const legendItems = [
		{ label: 'snow covered', shape: asterisk, fill: 'none', stroke: '#0000ff', y: 541 },
		{ label: 'snow free', shape: diamond, fill: '#ff0000', stroke: '#ff0000', y: 561 }
	]
	legendItems.forEach(item => {
		legend.append('path')
			.attr('transform', `translate(376, ${item.y})`)
			.attr('d', item.shape)
			.attr('fill', item.fill)
			.attr('stroke', item.stroke)
			.attr('stroke-width', 1)
		legend.append('text')
			.attr('x', 401)
			.attr('y', item.y + 6)
			.attr('fill', '#000')
			.style('font-size', '17.3px')
			.text(item.label)
	})

	svg.append('text')
		.attr('x', (sc.left + sc.right) / 2)
		.attr('y', 506)
		.attr('text-anchor', 'middle')
		.attr('fill', '#000')
		.style('font-size', '21px')
		.text('NYA TROPOMI-ground UV index')

	svg.append('text')
		.attr('transform', `translate(28, ${(sc.top + sc.bottom) / 2}) rotate(-90)`)
		.attr('text-anchor', 'middle')
		.attr('fill', textColor)
		.style('font-size', '20.5px')
		.text('Absolute difference')

	svg.append('text')
		.attr('x', (sc.left + sc.right) / 2)
		.attr('y', 939)
		.attr('text-anchor', 'middle')
		.attr('fill', textColor)
		.style('font-size', '20.5px')
		.text('Solar zenith angle')

	svg.append('text')
		.attr('x', 300)
		.attr('y', 964)
		.attr('text-anchor', 'middle')
		.attr('fill', '#000')
		.style('font-size', '20px')
		.text('(b)')
}

draw()
</script>
</body>
</html>
